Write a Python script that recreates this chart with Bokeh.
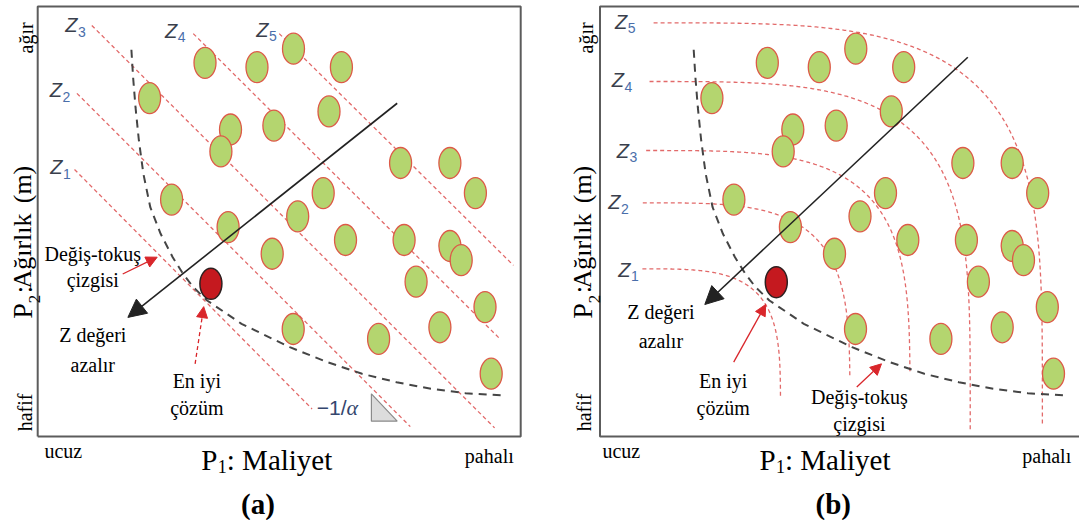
import numpy as np
from bokeh.plotting import figure
from bokeh.layouts import row
from bokeh.models import Arrow, NormalHead
from bokeh.core.properties import value
from bokeh.embed import file_html
from bokeh.resources import INLINE

# ---------------- data (box units: 0..100 across the frame) ----------------
green_x = [34.64, 45.40, 52.96, 62.88, 23.17, 39.92, 37.93, 48.90, 60.31, 75.13, 85.34, 90.62,
           27.72, 39.42, 59.11, 53.83, 63.73, 48.55, 75.86, 85.34, 87.68, 78.34, 92.61, 52.90,
           70.58, 83.27, 93.89]
green_y = [86.9, 85.9, 90.2, 85.9, 78.7, 71.4, 66.3, 72.3, 75.6, 63.6, 63.6, 56.6,
           55.1, 48.7, 56.6, 51.2, 45.7, 42.5, 45.7, 44.3, 41.0, 36.0, 30.1, 25.0,
           22.7, 25.4, 14.6]
best_a = (35.86, 35.5)
best_b = (36.50, 35.9)

tradeoff_x = [19.40, 19.75, 20.25, 20.95, 21.88, 23.31, 25.45, 27.95, 30.08, 32.22, 35.07,
              42.20, 52.19, 60.02, 67.16, 74.29, 81.41, 88.55, 96.40]
tradeoff_y = [89.93, 83.56, 76.58, 68.84, 61.09, 53.33, 47.14, 41.70, 37.84, 34.72, 31.63,
              26.21, 20.77, 17.28, 14.58, 12.63, 11.09, 10.07, 9.53]

z_names = ["1", "2", "3", "4", "5"]
# panel (a): straight iso-lines
za_x0 = [7.62, 8.12, 11.2, 32.2, 50.0]
za_y0 = [62.1, 79.8, 95.6, 93.7, 93.7]
za_x1 = [56.8, 77.14, 94.6, 95.7, 98.5]
za_y1 = [6.4, 2.3, 2.0, 22.7, 39.8]
za_lab_x = [5.13, 5.03, 8.24, 28.88, 47.8]
za_lab_y = [62.6, 80.5, 95.6, 94.4, 94.6]
# panel (b): curved iso-lines
zb_start = [8.74, 7.35, 9.07, 7.70, 8.74]
zb_top = [39.0, 54.35, 66.51, 82.56, 96.21]
zb_right = [37.37, 51.74, 64.18, 76.65, 91.59]
zb_end = [8.77, 13.79, 14.58, 1.40, 2.56]
zb_cx, zb_cy, zb_n = 6.31, 3.72, 4.0
zb_lab_x = [6.32, 4.24, 6.00, 4.98, 5.63]
zb_lab_y = [38.8, 54.5, 66.5, 82.8, 96.4]

arrow_a = (74.43, 77.5, 18.67, 27.7)
arrow_b = (76.15, 88.2, 21.70, 30.7)
tri_x = [69.09, 69.09, 74.43]
tri_y = [9.93, 3.56, 3.56]

PXX, PXY = 4.83, 4.3   # pixels per unit
GREEN_FILL, GREEN_LINE = "#b4d56f", "#dd5a48"
RED_FILL, RED_LINE = "#c5191f", "#2e2020"
ZLINE = "#e26a6a"
SERIF = "Liberation Serif"


def make_fig(width, left_px):
    p = figure(width=width, height=520,
               x_range=(-left_px / PXX, (width - left_px) / PXX),
               y_range=(-(520 - 436) / PXY, 100 + 6 / PXY),
               output_backend="svg", toolbar_location=None,
               x_axis_type=None, y_axis_type=None, min_border=0,
               outline_line_color=None, background_fill_color="white")
    p.grid.visible = False
    return p


def txt(p, x, y, s, size, color="black", font=SERIF, style="normal", align="center",
        baseline="middle", angle=0.0):
    p.text(x=[x], y=[y], text=[s], text_font=value(font), text_font_size=f"{size}px",
           text_color=color, text_font_style=style, text_align=align,
           text_baseline=baseline, angle=angle)


def arrow(p, xs, ys, xe, ye, color, size, width=1.3, dash="solid"):
    p.add_layout(Arrow(end=NormalHead(size=size, fill_color=color, line_color=color, line_width=1),
                       x_start=xs, y_start=ys, x_end=xe, y_end=ye,
                       line_color=color, line_width=width, line_dash=dash))


def z_labels(p, xs, ys):
    p.text(x=xs, y=ys, text=["Z"] * 5, text_font=value("Liberation Sans"),
           text_font_style="italic", text_font_size="20px", text_color="#3a3f4c",
           text_align="right", text_baseline="middle")
    p.text(x=[x + 0.1 for x in xs], y=[y - 6.5 / PXY for y in ys], text=z_names,
           text_font=value("Liberation Sans"), text_font_size="14px", text_color="#4a6eaa",
           text_align="left", text_baseline="middle")


def py(pix):
    return (436 - pix) / PXY


def common(p, best, ylab_u, ucuz_u, pahali_u, xlab_u, letter, letter_u, side_u):
    p.line(tradeoff_x, tradeoff_y, line_color="#454545", line_width=2, line_dash="8 6")
    p.ellipse(green_x, green_y, width=22 / PXX, height=31 / PXY,
              fill_color=GREEN_FILL, line_color=GREEN_LINE, line_width=1.3)
    p.ellipse([best[0]], [best[1]], width=22 / PXX, height=31 / PXY,
              fill_color=RED_FILL, line_color=RED_LINE, line_width=1.5)
    # y label as short rotated pieces (centre aligned)
    rot = np.pi / 2
    txt(p, ylab_u, py(310.5), "P", 28, angle=rot)
    txt(p, ylab_u + 12 / PXX, py(298.5), "2", 17, angle=rot)
    txt(p, ylab_u, py(289.0), ":", 27, angle=rot)
    txt(p, ylab_u, py(250.5), "Ağırlık", 26, angle=rot)
    txt(p, ylab_u, py(184.0), "(m)", 26, angle=rot)
    txt(p, side_u, 92.7, "ağır", 20, angle=rot)
    txt(p, side_u - 0.3, 5.6, "hafif", 20, angle=rot)
    # x label
    txt(p, xlab_u, -5.58, "P", 29, align="left")
    txt(p, xlab_u + 16.5 / PXX, -7.0, "1", 18, align="left")
    txt(p, xlab_u + 25.5 / PXX, -5.58, ": Maliyet", 29, align="left")
    txt(p, ucuz_u, -3.26, "ucuz", 20)
    txt(p, pahali_u, -4.65, "pahalı", 20)
    txt(p, letter_u, -15.6, letter, 29, style="bold")


# ---------------- panel (a) ----------------
pa = make_fig(540, 37.2)
pa.line([0, 100, 100, 0, 0], [0, 0, 100, 100, 0], line_color="#5c5c5c", line_width=2)
pa.segment(za_x0, za_y0, za_x1, za_y1, line_color=ZLINE, line_width=1.3, line_dash="4 3")
common(pa, best_a, -3.08, 5.3, 93.5, 33.87, "(a)", 45.6, -2.4)
z_labels(pa, za_lab_x, za_lab_y)
arrow(pa, *arrow_a, color="#222222", size=18, width=1.6)
arrow(pa, 17.6, 37.8, 24.74, 41.7, "#d9262b", 11)
arrow(pa, 32.59, 16.9, 34.37, 30.2, "#d9262b", 11, dash="4 3")
pa.patch(tri_x, tri_y, fill_color="#dcdcdc", line_color="#8a8a8a", line_width=1.2)
txt(pa, (346 - 37.2) / PXX, 6.67, "−1/", 21, color="#34466e", font="Liberation Sans", align="right")
txt(pa, (346 - 37.2) / PXX, 6.67, "α", 22, color="#34466e", font="Liberation Serif",
    style="italic", align="left")
txt(pa, 11.4, 42.5, "Değiş-tokuş", 20)
txt(pa, 11.4, 36.3, "çizgisi", 20)
txt(pa, 11.4, 23.5, "Z değeri", 20)
txt(pa, 11.4, 16.7, "azalır", 20)
txt(pa, 32.94, 13.0, "En iyi", 20)
txt(pa, 32.94, 6.7, "çözüm", 20)

# ---------------- panel (b) ----------------
pb = make_fig(539, 59.5)
pb.line([110, 0, 0, 110], [0, 0, 100, 100], line_color="#5c5c5c", line_width=2)
t = np.linspace(0, np.pi / 2, 500)
for i in range(5):
    rx = zb_right[i] - zb_cx
    ry = zb_top[i] - zb_cy
    xs = zb_cx + rx * np.cos(t) ** (2 / zb_n)
    ys = zb_cy + ry * np.sin(t) ** (2 / zb_n)
    m = (xs >= zb_start[i]) & (ys >= zb_end[i])
    xs, ys = list(xs[m][::-1]), list(ys[m][::-1])
    if zb_end[i] < zb_cy:
        xs.append(zb_right[i])
        ys.append(zb_end[i])
    pb.line(xs, ys, line_color=ZLINE, line_width=1.3, line_dash="4 3")
common(pb, best_b, -3.65, 4.4, 92.5, 33.02, "(b)", 48.3, -3.0)
z_labels(pb, zb_lab_x, zb_lab_y)
arrow(pb, *arrow_b, color="#222222", size=18, width=1.6)
arrow(pb, 27.68, 17.3, 34.31, 30.7, "#d9262b", 11)
arrow(pb, 53.16, 11.5, 58.28, 16.9, "#d9262b", 11)
txt(pb, 12.6, 28.9, "Z değeri", 20)
txt(pb, 12.6, 22.3, "azalır", 20)
txt(pb, 25.5, 13.0, "En iyi", 20)
txt(pb, 25.5, 6.7, "çözüm", 20)
txt(pb, 53.7, 9.3, "Değiş-tokuş", 20)
txt(pb, 53.7, 2.95, "çizgisi", 20)

layout = row(pa, pb)
open("out.html", "w").write(file_html(layout, INLINE))
